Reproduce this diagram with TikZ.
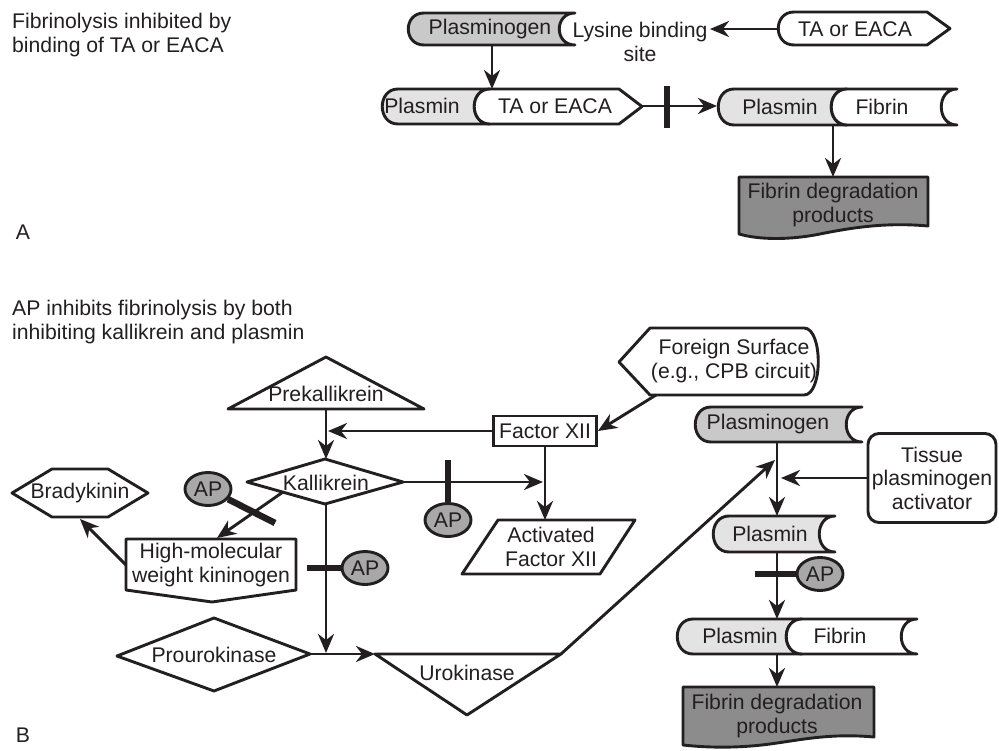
\documentclass[tikz,border=0pt]{standalone}
\usepackage{fontspec}
\setmainfont{Liberation Sans}
\usetikzlibrary{arrows.meta,shapes.geometric}

\definecolor{ink}{HTML}{231F20}
\definecolor{plgfill}{gray}{0.79}
\definecolor{plmfill}{gray}{0.89}
\definecolor{apfill}{gray}{0.66}
\definecolor{fdpfill}{gray}{0.55}

\tikzset{
  every node/.style={font=\fontsize{21.2}{23.5}\selectfont, text=ink, inner sep=0pt},
  shape line/.style={draw=ink, line width=2.9pt, line join=round},
  link/.style={draw=ink, line width=2.9pt},
  arr/.style={link, -{Stealth[length=19pt,width=16pt,inset=6pt]}},
  inhib/.style={draw=ink, line width=6.5pt},
  apnode/.style={ellipse, draw=ink, line width=2.9pt, fill=apfill,
    minimum width=46pt, minimum height=33pt},
  boxnode/.style={draw=ink, line width=2.9pt, fill=white},
}

% molecule body: convex cap on the left (starting at x=#2), concave socket on the right (ending at x=#3)
\newcommand\molC[5]{%
  \filldraw[shape line, fill=#1] (#2,#4) -- (#3,#4)
    .. controls (#3-21,#4) and (#3-21,#5) .. (#3,#5)
    -- (#2,#5) .. controls (#2-21,#5) and (#2-21,#4) .. (#2,#4) -- cycle;}
% molecule body: convex cap on the left, pointed tip on the right (tip at x=#3)
\newcommand\molP[5]{%
  \filldraw[shape line, fill=#1] (#2,#4) -- (#3-23,#4) -- (#3,{(#4+#5)/2})
    -- (#3-23,#5) -- (#2,#5) .. controls (#2-21,#5) and (#2-21,#4) .. (#2,#4) -- cycle;}

\begin{document}
\begin{tikzpicture}[x=1pt,y=-1pt]
\useasboundingbox (0,0) rectangle (999,750);
\fill[white] (0,0) rectangle (999,750);

%% ---------------- Panel A ----------------
\node[anchor=north west, align=left] (titleA) at (12,13)
  {Fibrinolysis inhibited by\\binding of TA or EACA};
\node (labA) at (23,232) {A};

% plasminogen with its lysine binding site
\molC{plgfill}{424}{575}{13}{45}
\node (plgA) at (490,29) {Plasminogen};
\node[align=center] (lbs) at (640,42) {Lysine binding\\site};

% free TA or EACA
\molP{white}{794}{950}{12}{45}
\node (taA) at (855,29) {TA or EACA};
\coordinate (taAW) at (778,29);
\coordinate (lbsE) at (710,29);
\draw[arr] (taAW) -- (lbsE);

% plasmin carrying TA or EACA
\molC{plmfill}{398}{490}{89}{124}
\molP{white}{490}{642}{89}{124}
\node (plmA) at (422,106) {Plasmin};
\node (taB) at (555,106) {TA or EACA};
\coordinate (plgAS) at (492,45);
\coordinate (plmAN) at (492,89);
\draw[arr] (plgAS) -- (plmAN);

% plasmin bound to fibrin
\molC{plmfill}{734}{847}{89}{125}
\molC{white}{847}{957}{89}{125}
\node (plmC) at (780,107) {Plasmin};
\node (fibA) at (882,107) {Fibrin};

\coordinate (taBtip) at (642,106);
\coordinate (plmCW) at (717,106);
\draw[arr] (taBtip) -- (plmCW);
\coordinate (barAt) at (667,86);
\coordinate (barAb) at (667,128);
\draw[inhib] (barAt) -- (barAb);

% degradation products
\filldraw[shape line, fill=fdpfill] (739,177) -- (928,177) -- (928,226)
  .. controls (885,222) and (850,228) .. (820,234)
  .. controls (790,240) and (760,240) .. (739,234) -- cycle;
\node[align=center] (fdpA) at (833,205) {Fibrin degradation\\products};
\coordinate (plmCS) at (833,125);
\coordinate (fdpAN) at (833,177);
\draw[arr] (plmCS) -- (fdpAN);

%% ---------------- Panel B ----------------
\node[anchor=north west, align=left] (titleB) at (12,300)
  {AP inhibits fibrinolysis by both\\inhibiting kallikrein and plasmin};
\node (labB) at (23,735) {B};

% foreign surface
\filldraw[shape line, fill=white] (619,362) -- (650,328) -- (804,328)
  .. controls (823,328) and (823,395) .. (804,395) -- (650,395) -- cycle;
\node[align=center] (fs) at (734,361) {Foreign Surface\\(e.g., CPB circuit)};

% factor XII
\node[boxnode, minimum width=103pt, minimum height=30pt] (fxii) at (545,431) {Factor XII};
\coordinate (fsSW) at (656,395);
\draw[arr] (fsSW) -- (fxii.east);

% prekallikrein
\filldraw[shape line, fill=white] (326,357) -- (424,409) -- (228,409) -- cycle;
\node (pk) at (326,394) {Prekallikrein};

% kallikrein
\filldraw[shape line, fill=white] (247,482) -- (325,459) -- (403,482) -- (325,504) -- cycle;
\node (kal) at (326,483) {Kallikrein};

\coordinate (pkS) at (326,409);
\coordinate (kalN) at (326,459);
\draw[arr] (pkS) -- (kalN);
\coordinate (pkjoin) at (328,431);
\draw[arr] (fxii.west) -- (pkjoin);

% activated factor XII
\filldraw[shape line, fill=white] (498,520) -- (635,520) -- (600,574) -- (462,574) -- cycle;
\node[align=center] (afx) at (551,547) {Activated\\Factor XII};
\coordinate (afxN) at (545,520);
\draw[arr] (fxii.south) -- (afxN);

\coordinate (kalE) at (403,482);
\coordinate (fxjoin) at (543,482);
\draw[arr] (kalE) -- (fxjoin);
\coordinate (apbar2) at (448,460);
\node[apnode] (ap2) at (448,520) {AP};
\draw[inhib] (ap2) -- (apbar2);

% high-molecular weight kininogen and bradykinin
\filldraw[shape line, fill=white] (126,539) -- (296,539) -- (296,590) -- (212,602) -- (126,590) -- cycle;
\node[align=center] (hm) at (211,565) {High-molecular\\weight kininogen};
\filldraw[shape line, fill=white] (12,493) -- (52,469) -- (108,469) -- (148,493) -- (108,517) -- (52,517) -- cycle;
\node (bk) at (80,493) {Bradykinin};

\coordinate (kalSW) at (283,492);
\coordinate (hmN) at (217,538);
\draw[arr] (kalSW) -- (hmN);
\coordinate (apbar1) at (275,523);
\node[apnode] (ap1) at (208,489) {AP};
\draw[inhib] (ap1) -- (apbar1);

\coordinate (hmW) at (126,565);
\coordinate (bkS) at (80,519);
\draw[arr] (hmW) -- (bkS);

% prourokinase and urokinase
\filldraw[shape line, fill=white] (117,656) -- (214,618) -- (310,654) -- (214,691) -- cycle;
\node (puk) at (214,655) {Prourokinase};
\filldraw[shape line, fill=white] (375,654) -- (561,654) -- (467,715) -- cycle;
\node (uk) at (467,673) {Urokinase};

\coordinate (kalS) at (326,504);
\coordinate (ukjoin) at (326,653);
\draw[arr] (kalS) -- (ukjoin);
\coordinate (apbar3) at (307,568);
\node[apnode] (ap3) at (365,568) {AP};
\draw[inhib] (ap3) -- (apbar3);

\coordinate (pukE) at (310,654);
\coordinate (ukW) at (375,654);
\draw[arr] (pukE) -- (ukW);

% plasminogen activation column
\molC{plgfill}{711}{862}{407}{442}
\node (plgB) at (768,424) {Plasminogen};
\molC{plmfill}{729}{835}{516}{552}
\node (plmB) at (770,534) {Plasmin};

\coordinate (ukE) at (561,654);
\coordinate (plgjoin) at (775,460);
\draw[arr] (ukE) -- (plgjoin);

\coordinate (plgBS) at (777,442);
\coordinate (plmBN) at (777,516);
\draw[arr] (plgBS) -- (plmBN);

\node[draw=ink, line width=2.9pt, rounded corners=11pt, minimum width=128pt,
  minimum height=89pt, align=center] (tpa) at (932,478) {Tissue\\plasminogen\\activator};
\coordinate (tpajoin) at (781,478);
\draw[arr] (tpa.west) -- (tpajoin);

% plasmin bound to fibrin
\molC{plmfill}{693}{802}{619}{654}
\molC{white}{802}{917}{619}{654}
\node (plmD) at (740,636) {Plasmin};
\node (fibB) at (840,636) {Fibrin};

\coordinate (plmBS) at (777,552);
\coordinate (pfN) at (777,619);
\draw[arr] (plmBS) -- (pfN);
\coordinate (apbar4) at (755,574);
\node[apnode] (ap4) at (820,574) {AP};
\draw[inhib] (ap4) -- (apbar4);

% degradation products
\filldraw[shape line, fill=fdpfill] (683,687) -- (874,687) -- (874,737)
  .. controls (830,733) and (800,740) .. (770,744)
  .. controls (740,748) and (710,748) .. (683,745) -- cycle;
\node[align=center] (fdpB) at (777,716) {Fibrin degradation\\products};
\coordinate (pfS) at (777,654);
\coordinate (fdpBN) at (777,687);
\draw[arr] (pfS) -- (fdpBN);
\end{tikzpicture}
\end{document}
